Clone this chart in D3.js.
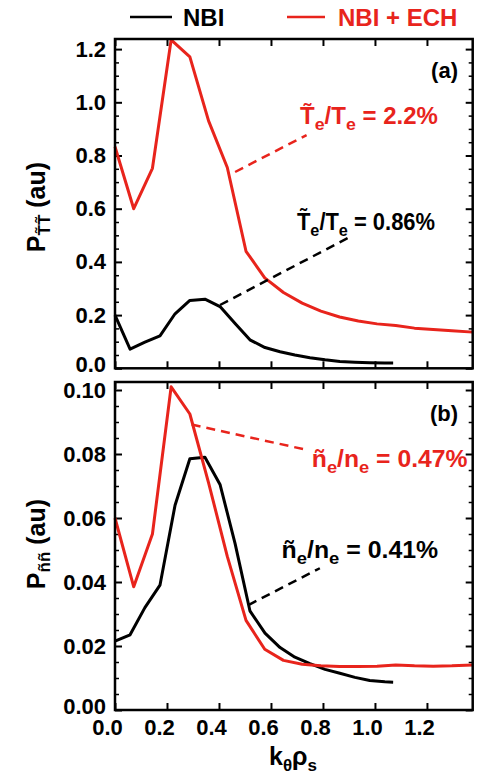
<!DOCTYPE html>
<html><head><meta charset="utf-8">
<script src="https://cdn.jsdelivr.net/npm/d3@7"></script>
<style>
body{margin:0;background:#fff}
svg{display:block}
text{font-family:"Liberation Sans",Arial,Helvetica,sans-serif;font-weight:bold}
</style>
</head><body>
<svg id="c" width="480" height="782"></svg>
<script>
// ---------- data ----------
const kRed   = [0,0.072,0.144,0.216,0.288,0.36,0.432,0.504,0.576,0.648,0.72,0.792,0.864,0.936,1.008,1.08,1.152,1.224,1.296,1.376];
const kBlack = [0,0.058,0.115,0.173,0.231,0.288,0.346,0.404,0.462,0.519,0.577,0.635,0.692,0.75,0.808,0.865,0.923,0.98,1.038,1.07];
const pTT_ECH = [0.833,0.600,0.752,1.235,1.171,0.930,0.755,0.440,0.340,0.285,0.245,0.215,0.193,0.178,0.167,0.161,0.151,0.146,0.141,0.136];
const pTT_NBI = [0.200,0.072,0.098,0.122,0.205,0.255,0.260,0.232,0.168,0.107,0.078,0.062,0.050,0.040,0.032,0.026,0.023,0.021,0.020,0.020];
const pNN_ECH = [0.060,0.0385,0.055,0.101,0.0925,0.071,0.048,0.028,0.019,0.0155,0.0143,0.0138,0.0136,0.0136,0.0137,0.0141,0.0138,0.0137,0.0138,0.0141];
const pNN_NBI = [0.0215,0.0235,0.032,0.039,0.064,0.0785,0.079,0.0705,0.052,0.031,0.024,0.0195,0.0165,0.0145,0.0127,0.0115,0.0102,0.0092,0.0088,0.0087];
const xTickLabels  = ["0.0","0.2","0.4","0.6","0.8","1.0","1.2"];
const yTickLabelsA = ["0.0","0.2","0.4","0.6","0.8","1.0","1.2"];
const yTickLabelsB = ["0.00","0.02","0.04","0.06","0.08","0.10"];
const seriesNames = ["NBI","NBI + ECH"];
// annotations: dashed leader (data units) + label start/end (data units)
const annotA = [
  {series:1, x1:0.462, y1:0.738, x2:0.737, y2:0.877, tx:0.712, tx2:1.242, ty:0.917, parts:[["T\u0303",0],["e",1],["/T",0],["e",1],[" = 2.2%",0]]},
  {series:0, x1:0.404, y1:0.238, x2:0.904, y2:0.494, tx:0.700, tx2:1.231, ty:0.520, parts:[["T\u0303",0],["e",1],["/T",0],["e",1],[" = 0.86%",0]]}
];
const annotB = [
  {series:1, x1:0.295, y1:0.0892, x2:0.737, y2:0.0813, tx:0.757, tx2:1.356, ty:0.0760, parts:[["\u00f1",0],["e",1],["/n",0],["e",1],[" = 0.47%",0]]},
  {series:0, x1:0.513, y1:0.0328, x2:0.788, y2:0.0443, tx:0.641, tx2:1.243, ty:0.0474, parts:[["\u00f1",0],["e",1],["/n",0],["e",1],[" = 0.41%",0]]}
];

// ---------- layout ----------
const colors = ["#000000", "#e8241c"];
const svg = d3.select("#c");
const L = 115, R = 472.7;
const x = d3.scaleLinear().domain([0, 1.376]).range([L, R]);
const yA = d3.scaleLinear().domain([0, 1.238]).range([368.3, 39]);
const yB = d3.scaleLinear().domain([0, 0.1025]).range([710, 382]);
const xTickVals = xTickLabels.map(Number);

function drawPanel(y, yLabels, minorStep, redY, blackY, annots, tag, tagY, subTxt, titleY, showX) {
  const g = svg.append("g");
  const [y0, y1] = y.range();
  const yMax = y.domain()[1];
  const yVals = yLabels.map(Number);
  const minors = d3.range(0, yMax + 1e-9, minorStep).filter(v => !yVals.some(m => Math.abs(m - v) < 1e-9));

  const styleAxis = (sel, w) => { sel.select(".domain").remove(); sel.selectAll("line").attr("stroke", "#000").attr("stroke-width", w); };

  const la = g.append("g").attr("transform", `translate(${L},0)`)
    .call(d3.axisLeft(y).tickValues(yVals).tickSize(-7).tickPadding(9).tickFormat((d, i) => yLabels[i]));
  styleAxis(la, 2);
  la.selectAll("text").attr("font-size", 22).attr("fill", "#000")
    .attr("font-family", '"Liberation Sans",Arial,sans-serif').attr("font-weight", "bold");
  la.selectAll("text").filter((d, i) => i === 0).attr("y", -4);
  styleAxis(g.append("g").attr("transform", `translate(${L},0)`)
    .call(d3.axisLeft(y).tickValues(minors).tickSize(-4).tickFormat("")), 1.5);
  styleAxis(g.append("g").attr("transform", `translate(${R},0)`)
    .call(d3.axisRight(y).tickValues(yVals).tickSize(-7).tickFormat("")), 2);
  styleAxis(g.append("g").attr("transform", `translate(${R},0)`)
    .call(d3.axisRight(y).tickValues(minors).tickSize(-4).tickFormat("")), 1.5);
  styleAxis(g.append("g").attr("transform", `translate(0,${y1})`)
    .call(d3.axisTop(x).tickValues(xTickVals).tickSize(-7).tickFormat("")), 2);
  const ba = g.append("g").attr("transform", `translate(0,${y0})`)
    .call(d3.axisBottom(x).tickValues(xTickVals).tickSize(-7).tickPadding(9)
      .tickFormat((d, i) => showX ? xTickLabels[i] : ""));
  styleAxis(ba, 2);
  ba.selectAll("text").attr("font-size", 22).attr("fill", "#000").attr("x", -8)
    .attr("font-family", '"Liberation Sans",Arial,sans-serif').attr("font-weight", "bold");

  const line = d3.line().x(d => x(d[0])).y(d => y(d[1]));
  const series = [d3.zip(kBlack, blackY), d3.zip(kRed, redY)];
  series.forEach((s, i) => {
    g.append("path").datum(s).attr("d", line).attr("fill", "none")
      .attr("stroke", colors[i]).attr("stroke-width", 3).attr("stroke-linejoin", "round");
  });

  annots.forEach(a => {
    g.append("line").attr("x1", x(a.x1)).attr("y1", y(a.y1)).attr("x2", x(a.x2)).attr("y2", y(a.y2))
      .attr("stroke", colors[a.series]).attr("stroke-width", 2.5).attr("stroke-dasharray", "9,6");
    const t = g.append("text").attr("x", x(a.tx)).attr("y", y(a.ty)).attr("font-size", 23)
      .attr("fill", colors[a.series])
      .attr("textLength", x(a.tx2) - x(a.tx)).attr("lengthAdjust", "spacingAndGlyphs");
    let sub = 0;
    a.parts.forEach(p => {
      const dy = p[1] - sub; sub = p[1];
      t.append("tspan").attr("dy", dy * 6).attr("font-size", p[1] ? 17 : 23).text(p[0]);
    });
  });

  g.append("rect").attr("x", L).attr("y", y1).attr("width", R - L).attr("height", y0 - y1)
    .attr("fill", "none").attr("stroke", "#000").attr("stroke-width", 2.5);

  g.append("text").attr("x", 458).attr("y", tagY).attr("text-anchor", "end").attr("font-size", 22).text(tag);

  const tt = g.append("text").attr("transform", `translate(45,${titleY}) rotate(-90)`)
    .attr("text-anchor", "middle").attr("font-size", 25);
  tt.append("tspan").text("P");
  tt.append("tspan").attr("dy", 5).attr("font-size", 17).text(subTxt);
  tt.append("tspan").attr("dy", -5).text(" (au)");
}

drawPanel(yA, yTickLabelsA, 0.05, pTT_ECH, pTT_NBI, annotA, "(a)", 78, "T\u0303T\u0303", 207, false);
drawPanel(yB, yTickLabelsB, 0.005, pNN_ECH, pNN_NBI, annotB, "(b)", 421, "\u00f1\u00f1", 544, true);

const xt = svg.append("text").attr("x", 293).attr("y", 765).attr("text-anchor", "middle").attr("font-size", 25);
xt.append("tspan").text("k");
xt.append("tspan").attr("dy", 6).attr("font-size", 17).text("\u03b8");
xt.append("tspan").attr("dy", -6).text("\u03c1");
xt.append("tspan").attr("dy", 6).attr("font-size", 17).text("s");

const legX = [[130, 172, 183], [287, 325, 338]];
seriesNames.forEach((n, i) => {
  svg.append("line").attr("x1", legX[i][0]).attr("x2", legX[i][1]).attr("y1", 17).attr("y2", 17)
    .attr("stroke", colors[i]).attr("stroke-width", 2.5);
  svg.append("text").attr("x", legX[i][2]).attr("y", 26).attr("font-size", 24).attr("fill", colors[i]).text(n);
});
</script>
</body></html>
